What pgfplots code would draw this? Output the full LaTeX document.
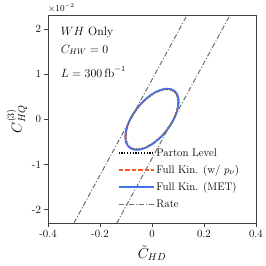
\documentclass[border=0pt]{standalone}
\usepackage{pgfplots}
\pgfplotsset{compat=1.18}
\definecolor{myblue}{RGB}{65,115,235}
\definecolor{myorange}{RGB}{255,85,30}
\definecolor{mygray}{RGB}{110,110,110}
\begin{document}
\begin{tikzpicture}
\begin{axis}[
  scale only axis,
  width=208pt, height=207.5pt,
  xmin=-0.4, xmax=0.4, ymin=-2.3, ymax=2.3,
  xtick={-0.4,-0.2,0,0.2,0.4},
  xticklabels={-0.4,-0.2,0,0.2,0.4},
  ytick={-2,-1,0,1,2},
  yticklabels={-2,-1,0,1,2},
  tick align=outside, tick pos=left,
  major tick length=3.5pt,
  axis line style={black!75, line width=0.8pt},
  every tick/.style={black!75, line width=0.8pt},
  tick label style={font=\fontsize{11}{13}\selectfont},
  xlabel={$\tilde{C}_{HD}$},
  ylabel={$C^{(3)}_{HQ}$},
  label style={font=\fontsize{14}{16}\selectfont},
  xlabel style={yshift=-1pt},
  ylabel style={yshift=-2pt},
  clip=true,
  legend style={at={(0.33,0.375)}, anchor=north west, draw=none, fill=none,
    font=\fontsize{11}{13}\selectfont, row sep=3.5pt, inner sep=1pt},
  legend cell align=left,
  legend image code/.code={\draw[#1] (0pt,0pt) -- (35pt,0pt);},
]
\addplot[black, line width=1.5pt, dash pattern=on 1.2pt off 1.6pt, smooth] coordinates {
(0.0975,0.5105)(0.1009,0.3822)(0.0975,0.2279)(0.0874,0.0581)(0.0713,-0.1157)(0.0505,-0.2816)(0.0262,-0.4284)(0,-0.5459)(-0.0262,-0.6262)(-0.0505,-0.6639)(-0.0713,-0.6563)(-0.0874,-0.6040)(-0.0975,-0.5105)(-0.1009,-0.3822)(-0.0975,-0.2279)(-0.0874,-0.0581)(-0.0713,0.1157)(-0.0505,0.2816)(-0.0262,0.4284)(0,0.5459)(0.0262,0.6262)(0.0505,0.6639)(0.0713,0.6563)(0.0874,0.6040)(0.0975,0.5105)(0.1009,0.3822)(0.0975,0.2279)};
\addlegendentry{Parton Level}
\addplot[myorange, line width=1.6pt, dash pattern=on 4.5pt off 2pt, smooth] coordinates {
(0.0980,0.5131)(0.1015,0.3841)(0.0980,0.2291)(0.0879,0.0584)(0.0717,-0.1163)(0.0507,-0.2831)(0.0263,-0.4306)(0,-0.5486)(-0.0263,-0.6295)(-0.0507,-0.6673)(-0.0717,-0.6597)(-0.0879,-0.6071)(-0.0980,-0.5131)(-0.1015,-0.3841)(-0.0980,-0.2291)(-0.0879,-0.0584)(-0.0717,0.1163)(-0.0507,0.2831)(-0.0263,0.4306)(0,0.5486)(0.0263,0.6295)(0.0507,0.6673)(0.0717,0.6597)(0.0879,0.6071)(0.0980,0.5131)(0.1015,0.3841)(0.0980,0.2291)};
\addlegendentry{Full Kin. (w/ $p_\nu$)}
\addplot[myblue, line width=1.6pt, smooth] coordinates {
(0.0995,0.5209)(0.1030,0.3900)(0.0995,0.2326)(0.0892,0.0593)(0.0728,-0.1181)(0.0515,-0.2874)(0.0267,-0.4371)(0,-0.5570)(-0.0267,-0.6390)(-0.0515,-0.6774)(-0.0728,-0.6697)(-0.0892,-0.6163)(-0.0995,-0.5209)(-0.1030,-0.3900)(-0.0995,-0.2326)(-0.0892,-0.0593)(-0.0728,0.1181)(-0.0515,0.2874)(-0.0267,0.4371)(0,0.5570)(0.0267,0.6390)(0.0515,0.6774)(0.0728,0.6697)(0.0892,0.6163)(0.0995,0.5209)(0.1030,0.3900)(0.0995,0.2326)};
\addlegendentry{Full Kin. (MET)}
\addplot[mygray, line width=1pt, dash pattern=on 5pt off 2pt on 1pt off 2pt] coordinates {(-0.319,-2.5)(0.153,2.5)};
\addlegendentry{Rate}
\addplot[mygray, line width=1pt, dash pattern=on 5pt off 2pt on 1pt off 2pt, forget plot] coordinates {(-0.154,-2.5)(0.318,2.5)};
\node[anchor=west, font=\fontsize{12}{14}\selectfont] at (rel axis cs:0.045,0.916) {$WH$ Only};
\node[anchor=west, font=\fontsize{12}{14}\selectfont] at (rel axis cs:0.045,0.834) {$C_{HW}=0$};
\node[anchor=west, font=\fontsize{12}{14}\selectfont] at (rel axis cs:0.045,0.728) {$L=300\,\mathrm{fb}^{-1}$};
\end{axis}
\node[anchor=south west, font=\fontsize{9}{11}\selectfont, inner sep=0pt] at ([yshift=3pt]current axis.north west) {$\times10^{-2}$};
\pgfresetboundingbox
\path (current axis.south west) ++(-48pt,-43pt) rectangle ++(266pt,266pt);
\end{tikzpicture}
\end{document}
